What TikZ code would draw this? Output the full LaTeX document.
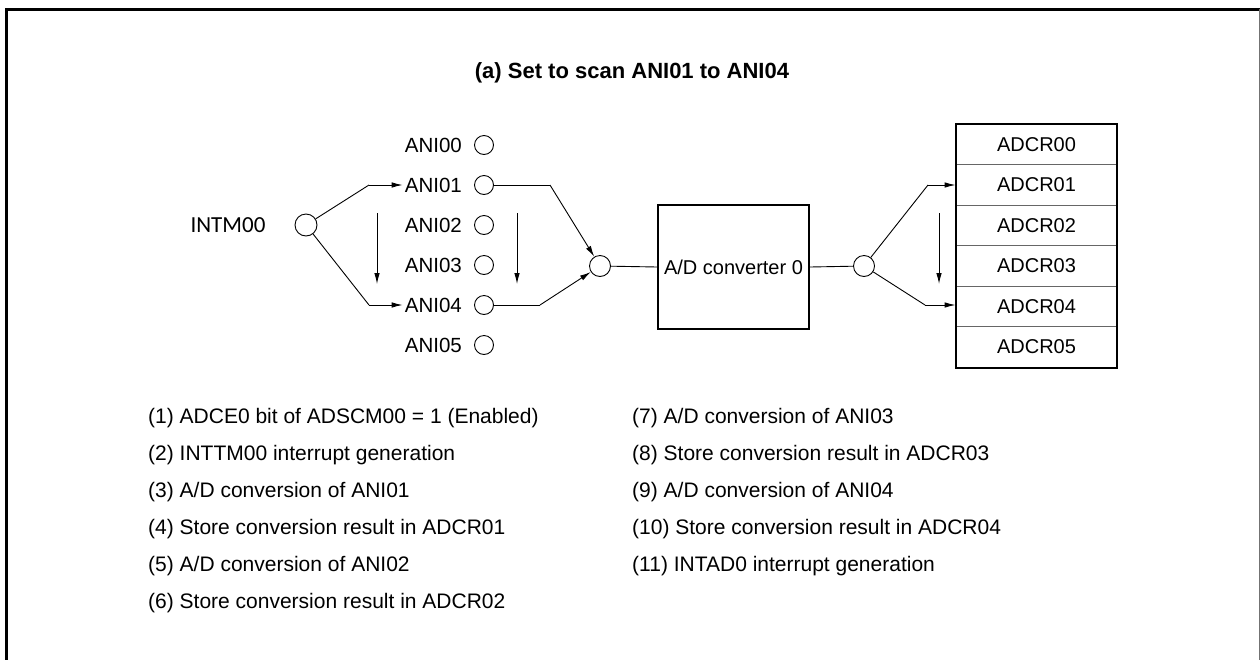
\documentclass[tikz,border=0pt]{standalone}
\usepackage{fontspec}
\setmainfont{Liberation Sans}
\newfontfamily\calfont{Carlito}
\usetikzlibrary{arrows.meta}
\begin{document}
\begin{tikzpicture}[x=1pt,y=-1pt,
  every node/.style={font=\fontsize{20}{24}\selectfont},
  port/.style={circle,draw,line width=0.9pt,minimum size=19pt,inner sep=0pt},
  anilbl/.style={anchor=east,inner sep=0pt,font=\fontsize{20.5}{24}\selectfont},
  conn/.style={line width=0.9pt},
  arr/.style={line width=0.9pt,-{Latex[length=11pt,width=5.5pt]}},
  reg/.style={draw=black!60,line width=0.9pt,minimum width=161pt,minimum height=40.5pt,inner sep=0pt},
  item/.style={anchor=west,inner sep=0pt,font=\fontsize{21}{25}\selectfont}]
\useasboundingbox (0,0) rectangle (1260,659);
% frame
\draw[line width=3pt] (6,662) -- (6,9) -- (1260,9);
\draw[black!55,line width=1pt] (1259,9) -- (1259,662);
% title
\node[font=\fontsize{22}{26}\selectfont\bfseries] (title) at (632,73) {(a) Set to scan ANI01 to ANI04};
% inputs
\foreach \i/\y in {0/145,1/185,2/225,3/265,4/305,5/345}{
  \node[anilbl] (a\i) at (462,\y) {ANI0\i};
  \node[port] (c\i) at (484,\y) {};
}
\node[font=\calfont\fontsize{23}{26}\selectfont] (intm) at (228,225) {INTM00};
\node[port,minimum size=22pt] (s) at (306,225) {};
\coordinate (b1) at (369,185);
\coordinate (b4) at (369,305);
\draw[conn] (s) -- (b1);
\draw[arr] (b1) -- ([xshift=-2pt]a1.west);
\draw[conn] (s) -- (b4);
\draw[arr] (b4) -- ([xshift=-2pt]a4.west);
% vertical scan arrows
\coordinate (v1a) at (377,213); \coordinate (v1b) at (377,284);
\coordinate (v2a) at (517,213); \coordinate (v2b) at (517,284);
\coordinate (v3a) at (939,213); \coordinate (v3b) at (939,284);
\draw[arr] (v1a) -- (v1b);
\draw[arr] (v2a) -- (v2b);
\draw[arr] (v3a) -- (v3b);
% merge
\node[port,minimum size=21pt] (m) at (600,266) {};
\coordinate (e1) at (550,185);
\coordinate (e4) at (540,305);
\draw[conn] (c1) -- (e1);
\draw[arr] (e1) -- (m);
\draw[conn] (c4) -- (e4);
\draw[arr] (e4) -- (m);
% converter
\node[draw,line width=2pt,minimum width=151pt,minimum height=124pt,inner sep=0pt] (adc) at (733.5,267) {A/D converter 0};
\draw[conn] (m) -- (adc.west);
\node[port,minimum size=21pt] (o) at (864,266) {};
\draw[conn] (adc.east) -- (o);
% registers
\foreach \i in {0,...,5}{
  \node[reg] (r\i) at (1036.5,{144.5+40.5*\i}) {ADCR0\i};
}
\draw[line width=2pt] (r0.north west) rectangle (r5.south east);
\coordinate (f1) at (928,185);
\coordinate (f4) at (925,305);
\draw[conn] (o) -- (f1);
\draw[arr] (f1) -- (r1.west|-f1);
\draw[conn] (o) -- (f4);
\draw[arr] (f4) -- (r4.west|-f4);
% steps list
\node[item] (l1) at (148,418) {(1) ADCE0 bit of ADSCM00 = 1 (Enabled)};
\node[item] (l2) at (148,455) {(2) INTTM00 interrupt generation};
\node[item] (l3) at (148,492) {(3) A/D conversion of ANI01};
\node[item] (l4) at (148,529) {(4) Store conversion result in ADCR01};
\node[item] (l5) at (148,566) {(5) A/D conversion of ANI02};
\node[item] (l6) at (148,603) {(6) Store conversion result in ADCR02};
\node[item] (l7) at (632,418) {(7) A/D conversion of ANI03};
\node[item] (l8) at (632,455) {(8) Store conversion result in ADCR03};
\node[item] (l9) at (632,492) {(9) A/D conversion of ANI04};
\node[item] (l10) at (632,529) {(10) Store conversion result in ADCR04};
\node[item] (l11) at (632,566) {(11) INTAD0 interrupt generation};
\end{tikzpicture}
\end{document}
